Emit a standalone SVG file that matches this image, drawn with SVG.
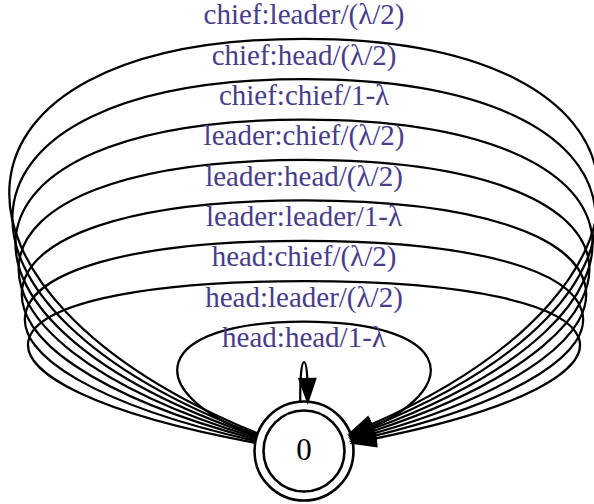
<svg xmlns="http://www.w3.org/2000/svg" width="594" height="504" viewBox="0 0 594 504">
<style>
.edge{fill:none;stroke:#000;stroke-width:2.25}
.arrow{fill:#000;stroke:#000;stroke-width:2.25;stroke-linejoin:miter}
.lbl{font-family:"Liberation Serif","Times New Roman",serif;font-size:29px;fill:#483d8b;text-anchor:middle}
.nlbl{font-family:"Liberation Serif","Times New Roman",serif;font-size:31px;fill:#000;text-anchor:middle}
.ring{fill:none;stroke:#000;stroke-width:2.6}
</style>
<rect width="594" height="504" fill="#fff"/>
<g id="connectors">
<g id="e8"><path class="edge" d="M257.71,433.46 C-88.34,291.56 -72.91,38.8 304,38.8 C673.22,38.8 695.56,281.35 371.0,424.64"/><polygon class="arrow" points="350.29,433.46 374.09,431.89 367.91,417.40"/><text class="lbl" x="304" y="24.3">chief:leader/(λ/2)</text></g>
<g id="e7"><path class="edge" d="M257.18,434.80 C-84.12,306.73 -68.51,79.2 304,79.2 C668.73,79.2 691.31,297.33 371.73,426.65"/><polygon class="arrow" points="350.82,434.80 374.59,433.99 368.87,419.31"/><text class="lbl" x="304" y="64.5">chief:head/(λ/2)</text></g>
<g id="e6"><path class="edge" d="M256.72,436.24 C-80.0,322.02 -64.24,119.6 304,119.6 C664.31,119.6 687.15,313.41 372.53,428.74"/><polygon class="arrow" points="351.28,436.24 375.15,436.17 369.91,421.31"/><text class="lbl" x="304" y="104.8">chief:chief/1-λ</text></g>
<g id="e5"><path class="edge" d="M256.30,437.75 C-75.77,337.42 -59.87,160 304,160 C659.84,160 682.90,329.67 373.18,431.0"/><polygon class="arrow" points="351.70,437.75 375.54,438.51 370.82,423.49"/><text class="lbl" x="304" y="145.2">leader:chief/(λ/2)</text></g>
<g id="e4"><path class="edge" d="M255.90,439.35 C-71.55,352.90 -55.52,200.4 304,200.4 C655.39,200.4 678.65,346.08 373.79,433.39"/><polygon class="arrow" points="352.10,439.35 375.88,440.98 371.70,425.79"/><text class="lbl" x="304" y="185.6">leader:head/(λ/2)</text></g>
<g id="e3"><path class="edge" d="M255.61,441.04 C-67.43,368.50 -51.30,240.8 304,240.8 C651.04,240.8 674.50,362.63 374.38,435.90"/><polygon class="arrow" points="352.39,441.04 376.18,443.56 372.59,428.23"/><text class="lbl" x="304" y="226">leader:leader/1-λ</text></g>
<g id="e2"><path class="edge" d="M255.19,442.78 C-63.21,384.15 -46.94,281.2 304,281.2 C646.61,281.2 670.25,379.32 374.92,438.53"/><polygon class="arrow" points="352.81,442.78 376.41,446.26 373.43,430.80"/><text class="lbl" x="304" y="266.4">head:chief/(λ/2)</text></g>
<g id="e1"><path class="edge" d="M256.76,436.29 C136.83,390.86 152.58,321.6 304,321.6 C446.03,321.6 468.70,382.53 372.0,427.57"/><polygon class="arrow" points="351.24,436.29 375.05,434.83 368.95,420.31"/><text class="lbl" x="304" y="306.8">head:leader/(λ/2)</text></g>
<g id="e0"><path class="edge" d="M300.30,401.61 C299.99,380.28 301.23,362 304,362 C305.7,362 306.82,368.86 307.37,379.08"/><polygon class="arrow" points="307.70,401.61 315.24,378.97 299.50,379.20"/><text class="lbl" x="304" y="347.2">head:head/1-λ</text></g>
</g>
<g id="node0">
<circle class="ring" cx="304" cy="451" r="40.5"/>
<circle class="ring" cx="304" cy="451" r="49.5"/>
<text class="nlbl" x="304" y="459.5">0</text>
</g>
</svg>
